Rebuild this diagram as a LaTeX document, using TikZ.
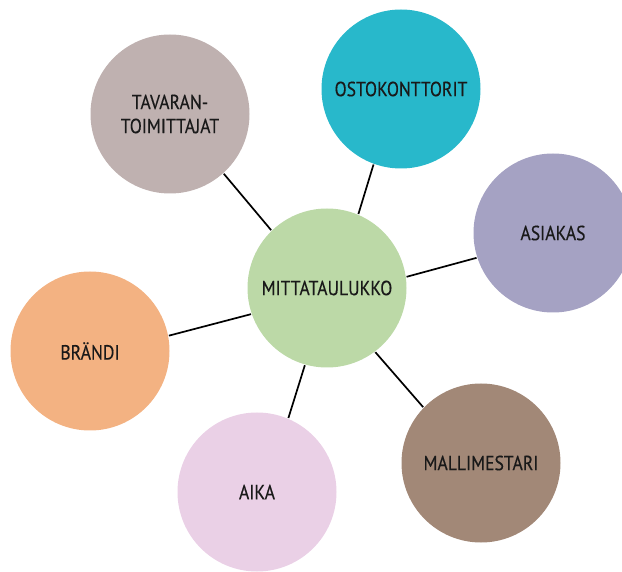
\documentclass[tikz,border=0pt]{standalone}
\usepackage{fontspec}
\setmainfont[FakeStretch=0.86, FakeBold=0.3]{PT Sans}
\definecolor{tavaraC}{HTML}{BFB1B0}
\definecolor{ostoC}{HTML}{28B8CB}
\definecolor{asiakasC}{HTML}{A5A2C3}
\definecolor{brandiC}{HTML}{F3B282}
\definecolor{aikaC}{HTML}{EAD0E6}
\definecolor{malliC}{HTML}{A28877}
\definecolor{mittaC}{HTML}{BCD9A7}
\begin{document}
\begin{tikzpicture}[x=1pt, y=-1pt, line width=1.7pt,
  burbuja/.style={circle, minimum size=159pt, inner sep=0pt, align=center, font=\fontsize{20.5}{24}\selectfont, text=black!90}]
\useasboundingbox (0,0) rectangle (622,572);
% Circulos
\node [burbuja, fill=mittaC]   (M) at (327,288) {MITTATAULUKKO};
\node [burbuja, fill=tavaraC]  (T) at (170,114) {TAVARAN-\\TOIMITTAJAT};
\node [burbuja, fill=ostoC]    (O) at (401,89)  {OSTOKONTTORIT};
\node [burbuja, fill=asiakasC] (A) at (553,233) {ASIAKAS};
\node [burbuja, fill=brandiC]  (B) at (90,351)  {BRÄNDI};
\node [burbuja, fill=aikaC]    (K) at (257,492) {AIKA};
\node [burbuja, fill=malliC]   (L) at (481,463) {MALLIMESTARI};
% Lineas
\draw (M.134.5) -- (T.-48);
\draw (M.67.8)  -- (O.250);
\draw (M.8.5)   -- (A.198.7);
\draw (M.199)   -- (B.11);
\draw (M.254.8) -- (K.67);
\draw (M.-53.4) -- (L.136.5);
\end{tikzpicture}
\end{document}
